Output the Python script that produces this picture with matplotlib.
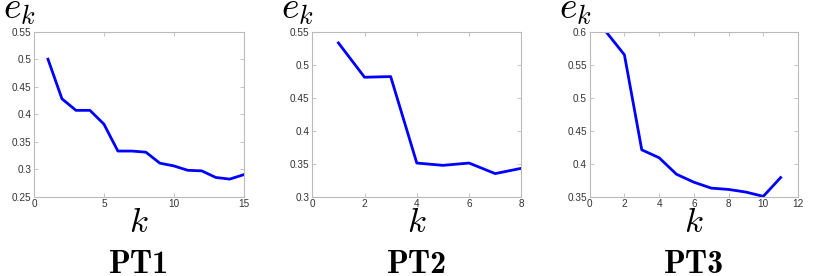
import os
import matplotlib
matplotlib.use("Agg")
import matplotlib.pyplot as plt
from matplotlib.font_manager import FontProperties

plt.rcParams['mathtext.fontset'] = 'cm'
plt.rcParams['font.family'] = ['Liberation Sans', 'DejaVu Sans']

cmb = os.path.join(matplotlib.get_data_path(), 'fonts', 'ttf', 'cmb10.ttf')
bold_fp = FontProperties(fname=cmb, size=23) if os.path.exists(cmb) else \
    FontProperties(family='DejaVu Serif', weight='bold', size=21)

k1 = list(range(1, 16))
e1 = [0.500, 0.428, 0.407, 0.407, 0.382, 0.333, 0.333, 0.331, 0.311, 0.306,
      0.298, 0.297, 0.285, 0.282, 0.290]
k2 = list(range(1, 9))
e2 = [0.533, 0.481, 0.482, 0.351, 0.3475, 0.351, 0.335, 0.343]
k3 = list(range(1, 12))
e3 = [0.598, 0.565, 0.421, 0.409, 0.384, 0.372, 0.363, 0.361, 0.357, 0.3505, 0.379]

titles = ['PT1', 'PT2', 'PT3']
xlims = [(0, 15), (0, 8), (0, 12)]
ylims = [(0.25, 0.55), (0.30, 0.55), (0.35, 0.60)]
xticks = [[0, 5, 10, 15], [0, 2, 4, 6, 8], [0, 2, 4, 6, 8, 10, 12]]
yticks = [[0.25, 0.3, 0.35, 0.4, 0.45, 0.5, 0.55],
          [0.3, 0.35, 0.4, 0.45, 0.5, 0.55],
          [0.35, 0.4, 0.45, 0.5, 0.55, 0.6]]
series = [(k1, e1), (k2, e2), (k3, e3)]

W, H = 830, 276
fig = plt.figure(figsize=(W / 100, H / 100), dpi=100)

boxes = [(34, 243.7), (312.3, 521.3), (589.7, 798)]
top_px, bot_px = 31.7, 196.7

for i, ((l, r), (x, y)) in enumerate(zip(boxes, series)):
    ax = fig.add_axes([l / W, 1 - bot_px / H, (r - l) / W, (bot_px - top_px) / H])
    ax.plot(x, y, color='#0000ff', lw=2)
    ax.set_xlim(*xlims[i])
    ax.set_ylim(*ylims[i])
    ax.set_xticks(xticks[i])
    ax.set_yticks(yticks[i])
    ax.set_xticklabels([f'{v:g}' for v in xticks[i]])
    ax.set_yticklabels([f'{v:g}' for v in yticks[i]])
    ax.tick_params(direction='in', length=3, width=0.6, colors='#bbbbbb',
                   labelcolor='#333333', labelsize=7.2, pad=2,
                   top=True, right=True)
    for s in ax.spines.values():
        s.set_color('#bbbbbb')
        s.set_linewidth(0.8)
    cx = (l + r) / 2
    fig.text(l / W + 0.002, 1 - 19 / H, r'$e_k$', fontsize=27, ha='right', va='baseline')
    fig.text(cx / W, 1 - 232 / H, r'$k$', fontsize=25, ha='center', va='baseline')
    fig.text(cx / W, 1 - 273 / H, titles[i], fontproperties=bold_fp,
             ha='center', va='baseline')

fig.savefig('out.png', dpi=100)
